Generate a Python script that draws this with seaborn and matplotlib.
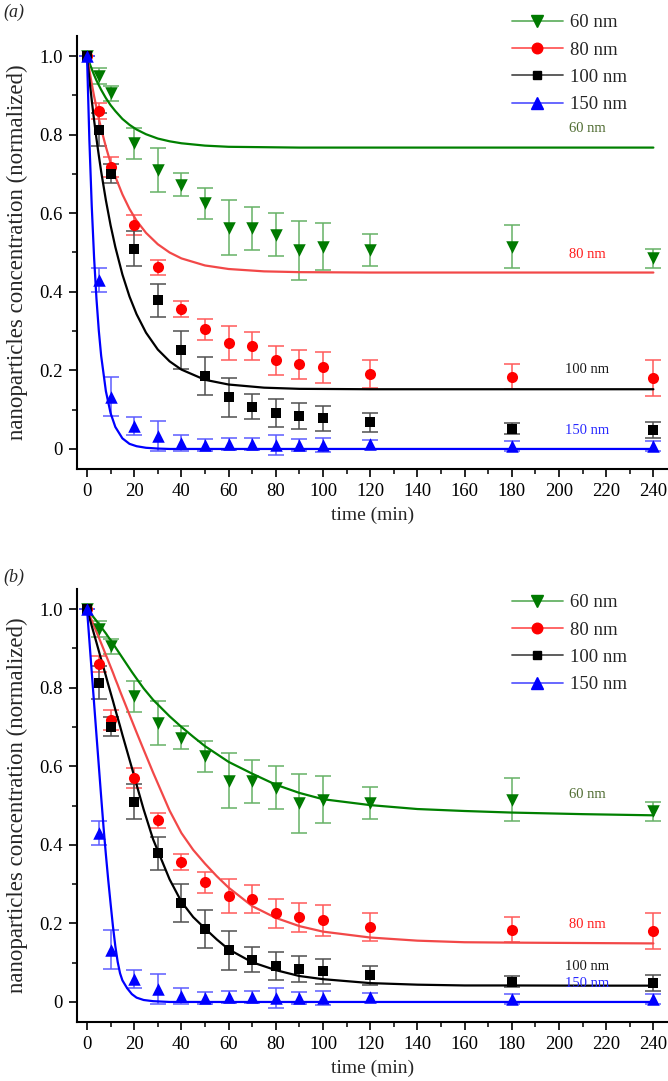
import numpy as np
import pandas as pd
import matplotlib
matplotlib.use('Agg')
import matplotlib.pyplot as plt
import seaborn as sns
from matplotlib.lines import Line2D
from matplotlib.ticker import MultipleLocator, FixedLocator

# measured points (same data in both panels)
time_pts = [0, 5, 10, 20, 30, 40, 50, 60, 70, 80, 90, 100, 120, 180, 240]
conc_60 = [1.0, 0.949, 0.905, 0.778, 0.71, 0.673, 0.625, 0.563, 0.562, 0.545, 0.506, 0.515, 0.506, 0.515, 0.485]
err_60 = [0, 0.02, 0.02, 0.04, 0.055, 0.03, 0.04, 0.07, 0.055, 0.055, 0.075, 0.06, 0.04, 0.055, 0.025]
conc_80 = [1.0, 0.86, 0.718, 0.57, 0.462, 0.356, 0.305, 0.269, 0.262, 0.226, 0.215, 0.208, 0.19, 0.184, 0.181]
err_80 = [0, 0.02, 0.025, 0.025, 0.02, 0.02, 0.027, 0.043, 0.036, 0.037, 0.036, 0.039, 0.036, 0.031, 0.045]
conc_100 = [1.0, 0.813, 0.701, 0.51, 0.379, 0.252, 0.186, 0.131, 0.108, 0.091, 0.084, 0.078, 0.068, 0.051, 0.048]
err_100 = [0, 0.043, 0.025, 0.045, 0.042, 0.049, 0.048, 0.049, 0.032, 0.036, 0.034, 0.032, 0.024, 0.014, 0.02]
conc_150 = [1.0, 0.43, 0.133, 0.059, 0.033, 0.016, 0.01, 0.013, 0.013, 0.01, 0.01, 0.01, 0.012, 0.008, 0.008]
err_150 = [0, 0.03, 0.05, 0.023, 0.038, 0.02, 0.015, 0.015, 0.015, 0.025, 0.015, 0.017, 0.012, 0.012, 0.013]

# fitted curves, panel (a)
fit_t_a = [0, 1, 2, 3, 4, 5, 6, 8, 10, 12, 15, 18, 21, 25, 30, 35, 40, 50, 60, 75, 90, 120, 180, 240]
fit_a_60 = [1.0, 0.983, 0.967, 0.952, 0.938, 0.926, 0.914, 0.893, 0.875, 0.860, 0.840, 0.825, 0.813, 0.801,
            0.790, 0.783, 0.778, 0.772, 0.769, 0.768, 0.767, 0.767, 0.767, 0.767]
fit_a_80 = [1.0, 0.964, 0.930, 0.898, 0.869, 0.841, 0.815, 0.769, 0.728, 0.693, 0.648, 0.611, 0.581, 0.550,
            0.521, 0.500, 0.485, 0.467, 0.458, 0.452, 0.450, 0.449, 0.449, 0.449]
fit_a_100 = [1.0, 0.942, 0.888, 0.837, 0.790, 0.747, 0.706, 0.633, 0.569, 0.514, 0.444, 0.388, 0.343, 0.296,
             0.253, 0.223, 0.202, 0.176, 0.164, 0.156, 0.153, 0.152, 0.152, 0.152]
fit_a_150 = [1.0, 0.787, 0.619, 0.487, 0.383, 0.301, 0.237, 0.147, 0.091, 0.056, 0.027, 0.013, 0.007, 0.003,
             0.001, 0, 0, 0, 0, 0, 0, 0, 0, 0]

# fitted curves, panel (b)
fit_t_b = [0, 2, 4, 6, 7, 8, 9, 10, 11, 12, 13, 14, 15, 17, 19, 21, 24, 28, 35, 40, 45, 50, 55, 60, 70, 80,
           90, 100, 120, 140, 160, 180, 210, 240]
fit_b_60 = [1.0, 0.985, 0.970, 0.954, 0.946, 0.938, 0.929, 0.921, 0.912, 0.903, 0.894, 0.885, 0.876, 0.858,
            0.840, 0.823, 0.798, 0.769, 0.727, 0.700, 0.675, 0.651, 0.631, 0.611, 0.581, 0.553, 0.532, 0.516,
            0.501, 0.491, 0.486, 0.482, 0.478, 0.475]
fit_b_80 = [1.0, 0.971, 0.942, 0.913, 0.898, 0.883, 0.868, 0.853, 0.838, 0.822, 0.807, 0.791, 0.776, 0.746,
            0.716, 0.686, 0.642, 0.584, 0.487, 0.430, 0.387, 0.352, 0.320, 0.291, 0.244, 0.214, 0.193, 0.179,
            0.164, 0.156, 0.152, 0.151, 0.150, 0.149]
fit_b_100 = [1.0, 0.957, 0.915, 0.872, 0.851, 0.830, 0.808, 0.787, 0.766, 0.744, 0.723, 0.702, 0.680, 0.638,
             0.596, 0.553, 0.490, 0.414, 0.312, 0.255, 0.216, 0.187, 0.159, 0.134, 0.101, 0.081, 0.066, 0.058,
             0.048, 0.044, 0.042, 0.042, 0.0415, 0.0415]
fit_b_150 = [1.0, 0.84, 0.68, 0.522, 0.445, 0.375, 0.31, 0.25, 0.192, 0.142, 0.102, 0.073, 0.055, 0.035,
             0.02, 0.011, 0.005, 0.002, 0, 0, 0, 0, 0, 0, 0, 0, 0, 0, 0, 0, 0, 0, 0, 0]

sizes = ['60 nm', '80 nm', '100 nm', '150 nm']
y_ticks = [0, 0.2, 0.4, 0.6, 0.8, 1.0]
y_ticklabels = ['0', '0.2', '0.4', '0.6', '0.8', '1.0']
x_ticks = [0, 20, 40, 60, 80, 100, 120, 140, 160, 180, 200, 220, 240]

marker_col = ['#007a00', '#ff0000', '#000000', '#0000ff']
line_col = ['#008000', '#f24848', '#000000', '#0000ff']
err_col = ['#66b266', '#ff5a5a', '#505050', '#5c5cff']
label_col = ['#4e6b30', '#ff1a1a', '#1a1a1a', '#2a2aff']
markers = ['v', 'o', 's', '^']
msize = [9, 8, 6.5, 9]

sns.set_theme(style='ticks')
plt.rcParams['font.family'] = ['Liberation Serif', 'DejaVu Serif']

fig = plt.figure(figsize=(6.68, 10.81), dpi=100)
ax_a = fig.add_axes([77/668, 1-469/1081, 591/668, 433/1081])
ax_b = fig.add_axes([77/668, 1-1022/1081, 591/668, 433/1081])

concs = [conc_60, conc_80, conc_100, conc_150]
errs = [err_60, err_80, err_100, err_150]

panels = [
    (ax_a, fit_t_a, [fit_a_60, fit_a_80, fit_a_100, fit_a_150],
     [(212, 0.816), (212, 0.494), (212, 0.203), (212, 0.048)], 1-14/1081),
    (ax_b, fit_t_b, [fit_b_60, fit_b_80, fit_b_100, fit_b_150],
     [(212, 0.527), (212, 0.198), (212, 0.090), (212, 0.046)], 1-594/1081),
]

for ax, ft, fits, lab_pos, leg_top in panels:
    for i in range(4):
        ax.errorbar(time_pts, concs[i], yerr=errs[i], fmt='none', ecolor=err_col[i],
                    elinewidth=1.1, capsize=5.5, capthick=1.1, zorder=2)
        sns.lineplot(x=ft, y=fits[i], ax=ax, color=line_col[i], lw=1.6, zorder=3, sort=False)
    for i in range(4):
        sns.scatterplot(x=time_pts, y=concs[i], ax=ax, marker=markers[i], s=msize[i]**2,
                        color=marker_col[i], linewidth=0, zorder=4)
        ax.text(lab_pos[i][0], lab_pos[i][1], sizes[i], color=label_col[i], fontsize=10.5,
                ha='center', va='center', zorder=5)

    ax.set_xlim(-4.24, 246.2)
    ax.set_ylim(-0.051, 1.051)
    ax.xaxis.set_major_locator(FixedLocator(x_ticks))
    ax.xaxis.set_minor_locator(MultipleLocator(10))
    ax.set_yticks(y_ticks)
    ax.set_yticklabels(y_ticklabels)
    ax.yaxis.set_minor_locator(MultipleLocator(0.1))
    sns.despine(ax=ax)
    for s in ['left', 'bottom']:
        ax.spines[s].set_linewidth(1.5)
        ax.spines[s].set_color('black')
    ax.tick_params(which='major', direction='out', length=6, width=1.2, labelsize=13.5,
                   colors='black', pad=4)
    ax.tick_params(which='minor', direction='out', length=3.5, width=1.1, colors='black')
    ax.set_xlabel('time (min)', fontsize=14, labelpad=5)
    ax.set_ylabel('nanoparticles concentration (normalized)', fontsize=16.5, labelpad=8)
    ax.grid(False)

    handles = [Line2D([0], [0], color=err_col[i], lw=1.3, marker=markers[i], markersize=msize[i]*0.95,
                      markerfacecolor=marker_col[i], markeredgecolor=marker_col[i]) for i in range(4)]
    ax.legend(handles, sizes, loc='upper left', bbox_to_anchor=(512/668, leg_top),
              bbox_transform=fig.transFigure, frameon=False, fontsize=13.5, handlelength=2.7,
              handletextpad=0.4, labelspacing=0.55, borderpad=0, borderaxespad=0)

fig.text(3/668, 1-12/1081, '(a)', fontsize=13, style='italic', va='center', ha='left')
fig.text(3/668, 1-577/1081, '(b)', fontsize=13, style='italic', va='center', ha='left')

fig.savefig('out.png', dpi=100)
